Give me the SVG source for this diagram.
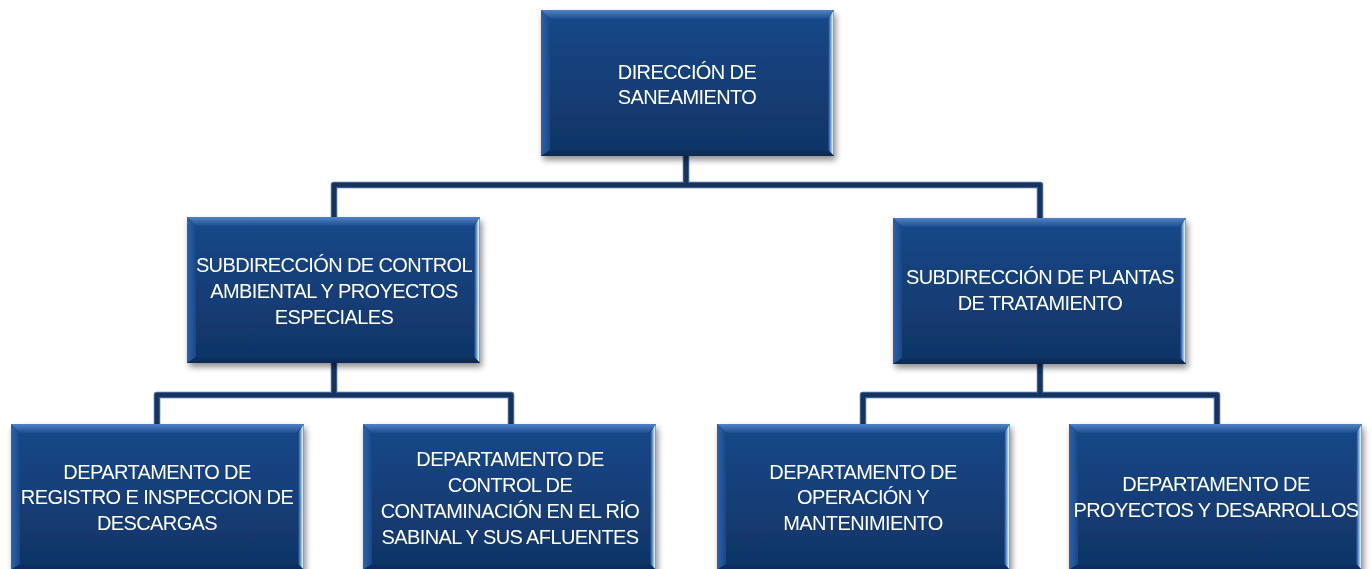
<svg xmlns="http://www.w3.org/2000/svg" xmlns:xlink="http://www.w3.org/1999/xlink" width="1372" height="569" viewBox="0 0 1372 569">
<defs>
  <linearGradient id="gFill" x1="0" y1="0" x2="0" y2="1">
    <stop offset="0" stop-color="#184889"/>
    <stop offset="1" stop-color="#103465"/>
  </linearGradient>
  <linearGradient id="gTop" x1="0" y1="0" x2="0" y2="1">
    <stop offset="0" stop-color="#5183C6"/>
    <stop offset="1" stop-color="#1C4D90"/>
  </linearGradient>
  <linearGradient id="gLeft" x1="0" y1="0" x2="1" y2="0">
    <stop offset="0" stop-color="#2F62A8"/>
    <stop offset="1" stop-color="#184887"/>
  </linearGradient>
  <linearGradient id="gRight" x1="0" y1="0" x2="1" y2="0">
    <stop offset="0" stop-color="#123A70"/>
    <stop offset="0.45" stop-color="#6E9FDA"/>
    <stop offset="0.75" stop-color="#D4E7FA"/>
    <stop offset="1" stop-color="#4C7DBE"/>
  </linearGradient>
  <linearGradient id="gBottom" x1="0" y1="0" x2="0" y2="1">
    <stop offset="0" stop-color="#0F3161"/>
    <stop offset="1" stop-color="#0C2A55"/>
  </linearGradient>
  <filter id="shadow" x="-10%" y="-10%" width="125%" height="130%">
    <feGaussianBlur in="SourceAlpha" stdDeviation="3"/>
    <feOffset dx="2" dy="4" result="b"/>
    <feComponentTransfer><feFuncA type="linear" slope="0.45"/></feComponentTransfer>
    <feMerge><feMergeNode/><feMergeNode in="SourceGraphic"/></feMerge>
  </filter>
  <g id="box">
    <rect x="0" y="0" width="293" height="146" fill="url(#gFill)"/>
    <polygon points="0,0 293,0 286,9 9,9" fill="url(#gTop)"/>
    <polygon points="0,0 9,9 9,140 0,146" fill="url(#gLeft)"/>
    <polygon points="293,0 293,146 287,140 287,9" fill="url(#gRight)"/>
    <polygon points="0,146 293,146 287,140 9,140" fill="url(#gBottom)"/>
  </g>
</defs>
<style>
  .lbl { font-family: "Liberation Sans", Arial, sans-serif; font-size: 20px; letter-spacing: -0.6px; fill: #FFFFFF; text-anchor: middle; }
  .conOuter { fill: none; stroke: #3B6090; stroke-width: 6.5; stroke-linejoin: round; }
  .conInner { fill: none; stroke: #17335B; stroke-width: 4; stroke-linejoin: round; }
</style>
<rect width="1372" height="569" fill="#FFFFFF"/>

<g id="connectors">
  <g class="conOuter">
    <path d="M686,155 V185"/>
    <path d="M334,217 V185 H1040 V218"/>
    <path d="M334,363 V395"/>
    <path d="M157,424 V395 H511 V424"/>
    <path d="M1040,363 V395"/>
    <path d="M863,424 V395 H1217 V424"/>
  </g>
  <g class="conInner">
    <path d="M686,155 V185"/>
    <path d="M334,217 V185 H1040 V218"/>
    <path d="M334,363 V395"/>
    <path d="M157,424 V395 H511 V424"/>
    <path d="M1040,363 V395"/>
    <path d="M863,424 V395 H1217 V424"/>
  </g>
</g>

<g id="n-direccion" filter="url(#shadow)">
  <use xlink:href="#box" href="#box" x="541" y="10"/>
  <text class="lbl"><tspan x="687" y="79">DIRECCIÓN DE</tspan><tspan x="687" y="104">SANEAMIENTO</tspan></text>
</g>

<g id="n-sub-control" filter="url(#shadow)">
  <use xlink:href="#box" href="#box" x="187" y="217"/>
  <text class="lbl"><tspan x="334" y="272">SUBDIRECCIÓN DE CONTROL</tspan><tspan x="334" y="298">AMBIENTAL Y PROYECTOS</tspan><tspan x="334" y="324">ESPECIALES</tspan></text>
</g>

<g id="n-sub-plantas" filter="url(#shadow)">
  <use xlink:href="#box" href="#box" x="893" y="218"/>
  <text class="lbl"><tspan x="1040" y="284">SUBDIRECCIÓN DE PLANTAS</tspan><tspan x="1040" y="310">DE TRATAMIENTO</tspan></text>
</g>

<g id="n-dep-registro" filter="url(#shadow)">
  <use xlink:href="#box" href="#box" x="11" y="424"/>
  <text class="lbl"><tspan x="157" y="479">DEPARTAMENTO DE</tspan><tspan x="157" y="504">REGISTRO E INSPECCION DE</tspan><tspan x="157" y="530">DESCARGAS</tspan></text>
</g>

<g id="n-dep-contaminacion" filter="url(#shadow)">
  <use xlink:href="#box" href="#box" x="363" y="424"/>
  <text class="lbl"><tspan x="510" y="466">DEPARTAMENTO DE</tspan><tspan x="510" y="492">CONTROL DE</tspan><tspan x="510" y="518">CONTAMINACIÓN EN EL RÍO</tspan><tspan x="510" y="544">SABINAL Y SUS AFLUENTES</tspan></text>
</g>

<g id="n-dep-operacion" filter="url(#shadow)">
  <use xlink:href="#box" href="#box" x="717" y="424"/>
  <text class="lbl"><tspan x="863" y="479">DEPARTAMENTO DE</tspan><tspan x="863" y="504">OPERACIÓN Y</tspan><tspan x="863" y="530">MANTENIMIENTO</tspan></text>
</g>

<g id="n-dep-proyectos" filter="url(#shadow)">
  <use xlink:href="#box" href="#box" x="1069" y="424"/>
  <text class="lbl"><tspan x="1216" y="491">DEPARTAMENTO DE</tspan><tspan x="1216" y="517">PROYECTOS Y DESARROLLOS</tspan></text>
</g>
</svg>
